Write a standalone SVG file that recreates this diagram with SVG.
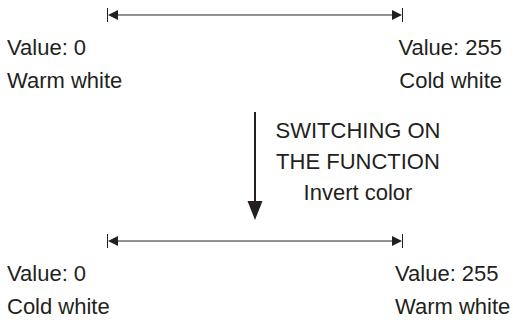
<svg xmlns="http://www.w3.org/2000/svg" width="513" height="320" viewBox="0 0 513 320">
<style>
text{font-family:"Liberation Sans",Arial,sans-serif;font-size:22px;fill:#231f20}
.c{text-anchor:middle}
.r{text-anchor:end}
.ln{stroke:#6d6d6d;stroke-width:1.5;fill:none}
.tk{stroke:#231f20;stroke-width:1;fill:none}
.ah{fill:#231f20}
</style>
<rect width="513" height="320" fill="#fff"/>
<g id="connectors">
<g id="scale-top">
<line class="ln" x1="110" y1="15" x2="400" y2="15"/>
<line class="tk" x1="107.5" y1="8" x2="107.5" y2="22"/>
<line class="tk" x1="402.5" y1="8" x2="402.5" y2="22"/>
<polygon class="ah" points="108,15 118,10 118,20"/>
<polygon class="ah" points="402,15 392,10 392,20"/>
</g>
<g id="scale-bottom">
<line class="ln" x1="110" y1="241" x2="400" y2="241"/>
<line class="tk" x1="107.5" y1="234" x2="107.5" y2="248"/>
<line class="tk" x1="402.5" y1="234" x2="402.5" y2="248"/>
<polygon class="ah" points="108,241 118,236 118,246"/>
<polygon class="ah" points="402,241 392,236 392,246"/>
</g>
<g id="switch-arrow">
<line x1="255" y1="112" x2="255" y2="204" stroke="#231f20" stroke-width="2"/>
<polygon class="ah" points="247.5,201 262.5,201 255,220"/>
</g>
</g>
<g id="top-left"><text x="7" y="55">Value: 0</text><text x="7" y="88">Warm white</text></g>
<g id="top-right"><text class="r" x="502" y="55">Value: 255</text><text class="r" x="502" y="88">Cold white</text></g>
<g id="function-label">
<text class="c" x="358" y="138">SWITCHING ON</text>
<text class="c" x="358" y="169">THE FUNCTION</text>
<text class="c" x="358" y="200">Invert color</text>
</g>
<g id="bottom-left"><text x="7" y="281">Value: 0</text><text x="7" y="314">Cold white</text></g>
<g id="bottom-right"><text x="395" y="281">Value: 255</text><text x="395" y="314">Warm white</text></g>
</svg>
